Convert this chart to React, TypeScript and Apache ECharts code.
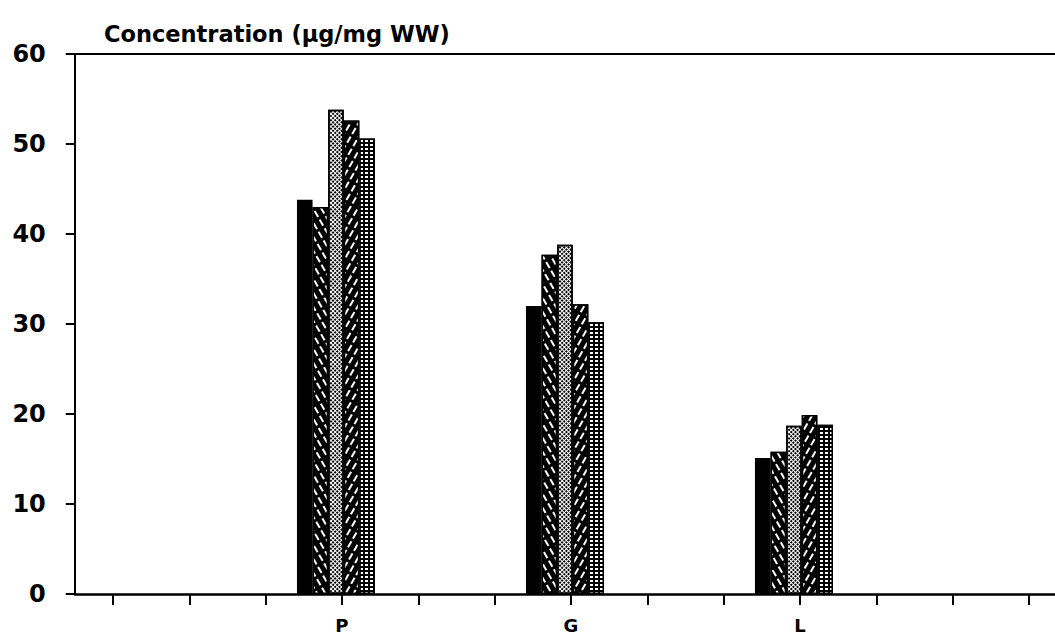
import React, { useEffect, useRef } from "react";
import * as echarts from "echarts";

// Tick slots along the x axis (13 ticks, three of them labelled)
const tickSlots = ["", "", "", "P", "", "", "G", "", "", "L", "", "", ""];
const groups = ["P", "G", "L"];

// Five bars per group (µg/mg WW)
const seriesSolid = [43.8, 32.0, 15.1];
const seriesBackHatch = [43.0, 37.7, 15.8];
const seriesDots = [53.8, 38.8, 18.7];
const seriesFwdHatch = [52.6, 32.2, 19.9];
const seriesCrossDots = [50.6, 30.2, 18.8];

const yTicks = [0, 10, 20, 30, 40, 50, 60];

const FONT = "DejaVu Sans";

function toSlots(vals: number[]) {
  return tickSlots.map((c) => {
    const i = groups.indexOf(c);
    return i >= 0 ? vals[i] : null;
  });
}

const CANVAS_W = 1085; // wider than the window so the frame runs off the right edge

export default function App() {
  const ref = useRef<HTMLDivElement>(null);
  useEffect(() => {
    if (!ref.current) return;
    const chart = echarts.init(ref.current, null, { renderer: "svg" });
    const border = { borderColor: "#000", borderWidth: 1.5 };
    const mk = (name: string, vals: number[], itemStyle: any) => ({
      name,
      type: "bar",
      xAxisIndex: 0,
      yAxisIndex: 0,
      data: toSlots(vals),
      barWidth: 15.6,
      barGap: "0%",
      itemStyle: { ...border, ...itemStyle },
      silent: true,
    });
    const plotWidth = 992.3;
    const option: any = {
      animation: false,
      backgroundColor: "#fff",
      title: {
        text: "Concentration (\u00b5g/mg WW)",
        left: 99,
        top: 17,
        textStyle: { fontFamily: FONT, fontWeight: "bold", fontSize: 22.5, color: "#000" },
      },
      grid: [
        { left: 68.8, width: plotWidth, top: 54, bottom: 43 },
        { left: 74.8, width: plotWidth, top: 54, bottom: 43 },
      ],
      xAxis: [
        {
          type: "category",
          gridIndex: 0,
          data: tickSlots,
          show: false,
        },
        {
          type: "category",
          gridIndex: 1,
          data: tickSlots,
          axisLine: { show: true, lineStyle: { color: "#000", width: 2.5 } },
          axisTick: { show: true, alignWithLabel: true, interval: 0, length: 11, lineStyle: { color: "#000", width: 2 } },
          axisLabel: {
            show: true,
            interval: 0,
            margin: 22,
            color: "#000",
            fontFamily: FONT,
            fontWeight: "bold",
            fontSize: 18,
          },
        },
        {
          type: "category",
          gridIndex: 1,
          position: "top",
          data: tickSlots,
          axisLine: { show: true, lineStyle: { color: "#000", width: 2 } },
          axisTick: { show: false },
          axisLabel: { show: false },
        },
      ],
      yAxis: [
        { type: "value", gridIndex: 0, min: 0, max: 60, interval: 10, show: false },
        {
          type: "value",
          gridIndex: 1,
          min: 0,
          max: 60,
          interval: 10,
          axisLine: { show: true, lineStyle: { color: "#000", width: 2 } },
          axisTick: { show: true, length: 9, lineStyle: { color: "#000", width: 2 } },
          splitLine: { show: false },
          axisLabel: {
            margin: 29,
            color: "#000",
            fontFamily: FONT,
            fontWeight: "bold",
            fontSize: 24,
            formatter: (v: number) => (yTicks.includes(v) ? String(v) : ""),
          },
        },
      ],
      series: [
        mk("Solid", seriesSolid, { color: "#000" }),
        mk("Back hatch", seriesBackHatch, {
          color: "#000",
          decal: {
            symbol: "rect",
            symbolSize: 1,
            color: "#fff",
            backgroundColor: "#000",
            dashArrayX: [7, 3],
            dashArrayY: [1.6, 4.4],
            rotation: Math.PI / 3,
          },
        }),
        mk("Dots", seriesDots, {
          color: "#fff",
          decal: {
            symbol: "rect",
            symbolSize: 1,
            color: "#000",
            backgroundColor: "#fff",
            dashArrayX: [1.8, 1.0],
            dashArrayY: [1.8, 1.0],
            rotation: Math.PI / 4,
          },
        }),
        mk("Forward hatch", seriesFwdHatch, {
          color: "#000",
          decal: {
            symbol: "rect",
            symbolSize: 1,
            color: "#fff",
            backgroundColor: "#000",
            dashArrayX: [7, 3],
            dashArrayY: [1.6, 4.4],
            rotation: -Math.PI / 3,
          },
        }),
        mk("Cross dots", seriesCrossDots, {
          color: "#000",
          decal: {
            symbol: "rect",
            symbolSize: 1,
            color: "#fff",
            backgroundColor: "#000",
            dashArrayX: [2.5, 1.5],
            dashArrayY: [2, 1.2],
            rotation: 0,
          },
        }),
      ],
    };
    chart.setOption(option);
    return () => chart.dispose();
  }, []);
  return (
    <div
      ref={ref}
      style={{ position: "fixed", left: 0, top: 0, width: CANVAS_W, height: 637, background: "#fff" }}
    />
  );
}
